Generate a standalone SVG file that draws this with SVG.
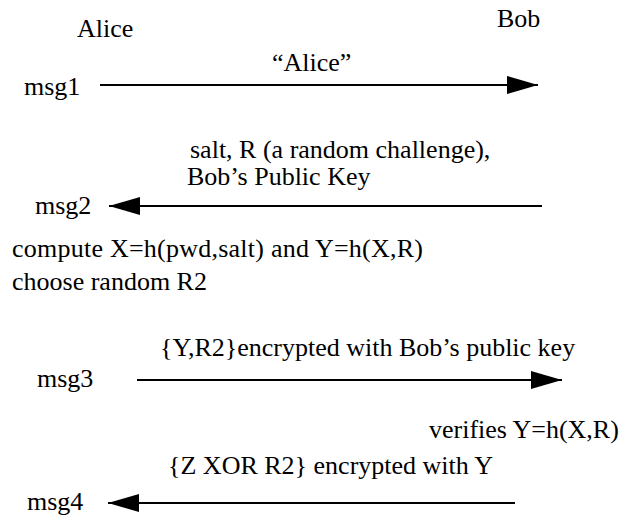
<svg xmlns="http://www.w3.org/2000/svg" width="631" height="521" viewBox="0 0 631 521">
  <style>
    .t { font-family: 'Liberation Serif', 'Times New Roman', serif; font-size: 26px; fill: #000; }
    .msg { stroke: #000; stroke-width: 2; fill: none; }
  </style>
  <defs>
    <!-- filled triangular arrowhead, 31 long and 18 wide -->
    <marker id="head" markerWidth="31" markerHeight="18" refX="31" refY="9" orient="auto" markerUnits="userSpaceOnUse">
      <path d="M0,0 L31,9 L0,18 Z" fill="#000"/>
    </marker>
  </defs>
  <rect width="631" height="521" fill="#fff"/>

  <!-- parties -->
  <g id="alice"><text class="t" x="77" y="37">Alice</text></g>
  <g id="bob"><text class="t" x="497" y="27">Bob</text></g>

  <!-- message labels and notes -->
  <g id="labels">
    <text class="t" x="24" y="95">msg1</text>
    <text class="t" x="272" y="71">“Alice”</text>
    <text class="t" x="190" y="158">salt, R (a random challenge),</text>
    <text class="t" x="187" y="185">Bob’s Public Key</text>
    <text class="t" x="35" y="214">msg2</text>
    <text class="t" x="12" y="257" textLength="411">compute X=h(pwd,salt) and Y=h(X,R)</text>
    <text class="t" x="12" y="290">choose random R2</text>
    <text class="t" x="160" y="356">{Y,R2}encrypted with Bob’s public key</text>
    <text class="t" x="37" y="387">msg3</text>
    <text class="t" x="429" y="438">verifies Y=h(X,R)</text>
    <text class="t" x="168" y="474">{Z XOR R2} encrypted with Y</text>
    <text class="t" x="27" y="510">msg4</text>
  </g>

  <!-- message arrows -->
  <g id="connectors">
    <line class="msg" x1="100" y1="85" x2="538" y2="85" marker-end="url(#head)"/>
    <line class="msg" x1="542" y1="206" x2="109" y2="206" marker-end="url(#head)"/>
    <line class="msg" x1="137" y1="380" x2="562" y2="380" marker-end="url(#head)"/>
    <line class="msg" x1="515" y1="503" x2="108" y2="503" marker-end="url(#head)"/>
  </g>
</svg>
